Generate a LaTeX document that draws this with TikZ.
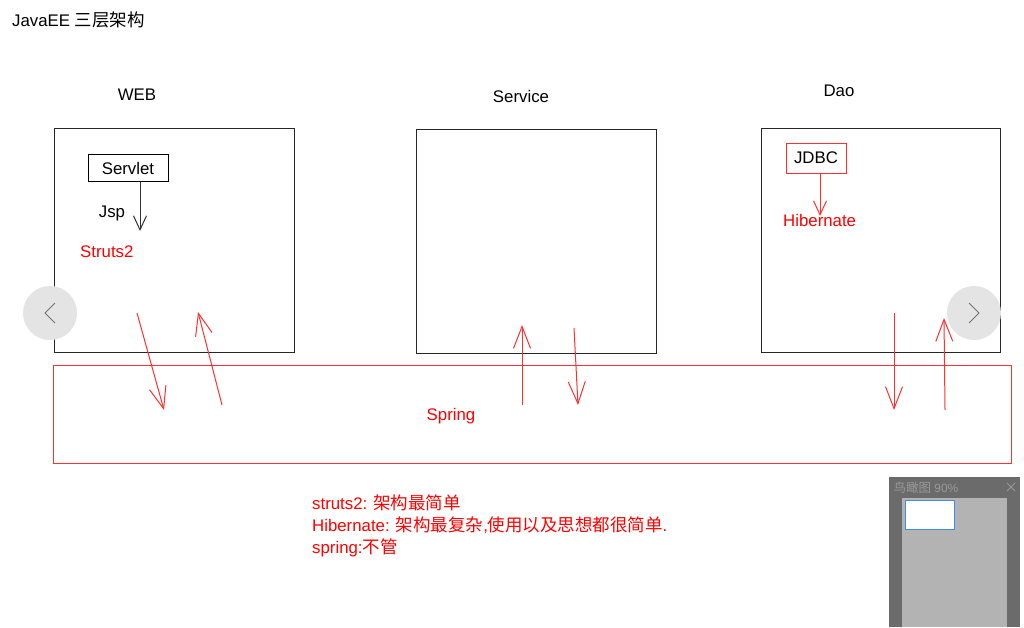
\documentclass[tikz,border=0pt]{standalone}
\usepackage{fontspec}
\setmainfont{Liberation Sans}
\newfontfamily\cjk{Noto Sans CJK SC}[Scale=1.04]
\usetikzlibrary{arrows.meta}

\definecolor{pen}{HTML}{FF3030}
\definecolor{navbg}{HTML}{E4E4E4}
\definecolor{mapdark}{HTML}{6B6B6B}
\definecolor{maplight}{HTML}{B3B3B3}
\definecolor{mapblue}{HTML}{3D8DF0}

\tikzset{
  txt/.style={inner sep=0pt, font=\fontsize{16.8}{20}\selectfont},
  layer/.style={draw=black!85, line width=1pt},
  hand/.style={pen, line width=1pt, -{Straight Barb[length=22pt,width=17pt]}},
  smallhand/.style={line width=1pt, -{Straight Barb[length=14pt,width=13pt]}},
}

\begin{document}
\begin{tikzpicture}[x=1pt,y=-1pt]
   \useasboundingbox (0,0) rectangle (1024,627);
   \fill[white] (0,0) rectangle (1024,627);
   % title
   \node[txt, anchor=west] (title) at (12,20) {JavaEE {\cjk 三层架构}};
   % layer names
   \node[txt] (webname) at (137,95) {WEB};
   \node[txt] (servicename) at (521,96) {Service};
   \node[txt] (daoname) at (839,91) {Dao};
   % layer boxes
   \draw[layer] (54,128) rectangle (294,352);
   \draw[layer] (416,129) rectangle (656,353);
   \draw[layer] (761,128) rectangle (1000,352);
   % web
   \node[txt, draw=black, line width=1pt, minimum width=80pt, minimum height=27pt] (servlet) at (128,168) {Servlet};
   \node[txt] (jsp) at (112,213) {Jsp};
   \node[txt, anchor=west, text=red] (struts) at (80,252) {Struts2};
   \coordinate (jspend) at (140,231);
   \draw[smallhand, black!80] (servlet.south -| jspend) -- (jspend);
   % dao
   \node[txt, draw=pen, line width=1pt, minimum width=60pt, minimum height=30pt] (jdbc) at (816,158) {JDBC};
   \node[txt, anchor=west, text=red] (hib) at (783,220) {Hibernate};
   \draw[smallhand, pen] (jdbc.south -| 820,0) -- (820,216);
   % spring
   \draw[pen, line width=1pt] (53,365) rectangle (1011,463);
   \node[txt, text=red] (spring) at (451,416) {Spring};
   % up and down arrows
   \coordinate (w1) at (137,313); \coordinate (w2) at (164,410);
   \coordinate (w3) at (222,405); \coordinate (w4) at (198,312);
   \coordinate (s1) at (522,405); \coordinate (s2) at (522,325);
   \coordinate (s3) at (574,328); \coordinate (s4) at (578,405);
   \coordinate (d1) at (894,313); \coordinate (d2) at (894,410);
   \coordinate (d3) at (945,410); \coordinate (d4) at (944,318);
   \draw[hand] (w1) -- (w2);
   \draw[hand] (w3) -- (w4);
   \draw[hand] (s1) -- (s2);
   \draw[hand] (s3) -- (s4);
   \draw[hand] (d1) -- (d2);
   \draw[hand] (d3) -- (d4);
   % notes
   \node[txt, anchor=west, text=red] (note1) at (312,503) {struts2: {\cjk 架构最简单}};
   \node[txt, anchor=west, text=red] (note2) at (312,525) {Hibernate: {\cjk 架构最复杂},{\cjk 使用以及思想都很简单}.};
   \node[txt, anchor=west, text=red] (note3) at (312,548) {spring:{\cjk 不管}};
   % viewer buttons
   \fill[navbg] (50,313) circle (27);
   \fill[navbg] (974,313) circle (27);
   \draw[black!55, line width=1pt] (55,303) -- (45,313) -- (55,323);
   \draw[black!55, line width=1pt] (969,303) -- (979,313) -- (969,323);
   % overview panel
   \fill[mapdark] (889,477) rectangle (1020,627);
   \fill[maplight] (902,498) rectangle (1007,627);
   \draw[mapblue, fill=white, line width=1pt] (905,500) rectangle (954,529);
   \node[inner sep=0pt, text=black!40, font=\fontsize{12}{14}\selectfont] (mapname) at (926,488) {{\cjk 鸟瞰图} 90\%};
   \draw[black!40, line width=0.8pt] (1007,483) -- (1015,491) (1015,483) -- (1007,491);
\end{tikzpicture}
\end{document}
